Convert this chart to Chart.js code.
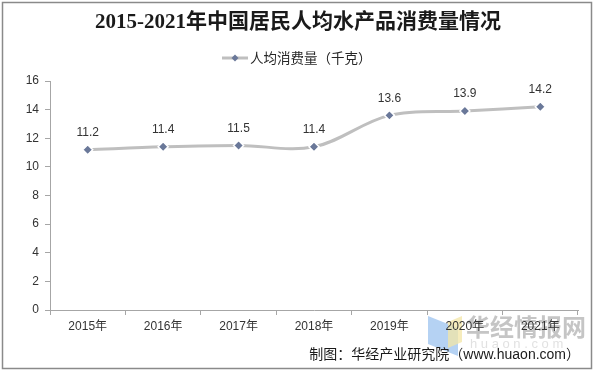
<!DOCTYPE html>
<html><head><meta charset="utf-8">
<script src="https://cdn.jsdelivr.net/npm/chart.js@4/dist/chart.umd.min.js"></script>
<style>html,body{margin:0;padding:0;background:#fff;}#wrap{position:relative;width:595px;height:373px;}</style>
</head><body><div id="wrap"><canvas id="c" width="595" height="373"></canvas></div>
<script>
const categories = ['2015年','2016年','2017年','2018年','2019年','2020年','2021年'];
const consumption = [11.2, 11.4, 11.5, 11.4, 13.6, 13.9, 14.2];
const seriesName = '人均消费量（千克）';
const titleText = '2015-2021年中国居民人均水产品消费量情况';
const sourceText = '制图：华经产业研究院（www.huaon.com）';
const yTicks = [0,2,4,6,8,10,12,14,16];

const CJK = '"Liberation Sans", "Noto Sans CJK SC", sans-serif';

const decor = {
  id: 'decor',
  beforeDraw(chart) {
    const ctx = chart.ctx;
    ctx.save();
    ctx.fillStyle = '#fff';
    ctx.fillRect(0, 0, chart.width, chart.height);
    // frame
    ctx.strokeStyle = '#8a8a8a';
    ctx.lineWidth = 1.5;
    ctx.strokeRect(2.5, 2.5, 589, 366);
    // watermark logo
    ctx.globalAlpha = 0.75;
    ctx.fillStyle = '#9cc3ef';
    ctx.beginPath();
    ctx.moveTo(428, 316); ctx.lineTo(458, 328); ctx.lineTo(458, 356); ctx.lineTo(428, 344); ctx.closePath(); ctx.fill();
    ctx.fillStyle = '#f3e6a6';
    ctx.beginPath();
    ctx.moveTo(448, 322); ctx.lineTo(462, 316); ctx.lineTo(462, 342); ctx.lineTo(448, 348); ctx.closePath(); ctx.fill();
    ctx.globalAlpha = 1;
    ctx.fillStyle = 'rgba(150,150,150,0.55)';
    ctx.font = 'bold 24px "Noto Sans CJK SC", sans-serif';
    ctx.textAlign = 'left'; ctx.textBaseline = 'middle';
    ctx.fillText('华经情报网', 466, 327);
    ctx.fillStyle = 'rgba(170,170,170,0.35)';
    ctx.font = '13px "Liberation Sans", sans-serif';
    ctx.fillText('h u a o n . c o m', 470, 344);
    ctx.restore();
  },
  afterDraw(chart) {
    const ctx = chart.ctx;
    ctx.save();
    // title
    ctx.fillStyle = '#1a1a1a';
    ctx.textAlign = 'center'; ctx.textBaseline = 'middle';
    ctx.font = 'bold 21px "Liberation Serif", "Noto Sans CJK SC", serif';
    ctx.fillText(titleText, 298, 23);
    // legend
    const ly = 58;
    ctx.strokeStyle = '#bfbfbf'; ctx.lineWidth = 3;
    ctx.beginPath(); ctx.moveTo(222, ly); ctx.lineTo(248, ly); ctx.stroke();
    ctx.fillStyle = '#6a7899';
    ctx.beginPath(); ctx.moveTo(235, ly-3.5); ctx.lineTo(238.5, ly); ctx.lineTo(235, ly+3.5); ctx.lineTo(231.5, ly); ctx.closePath(); ctx.fill();
    ctx.fillStyle = '#262626';
    ctx.textAlign = 'left';
    ctx.font = '13.5px "Noto Sans CJK SC", sans-serif';
    ctx.fillText(seriesName, 250, ly);
    // data labels
    const meta = chart.getDatasetMeta(0);
    ctx.font = '12px "Liberation Sans", sans-serif';
    ctx.fillStyle = '#333';
    ctx.textAlign = 'center';
    meta.data.forEach((pt, i) => {
      ctx.fillText(consumption[i].toFixed(1), pt.x, pt.y - 17);
    });
    // source
    ctx.fillStyle = '#1a1a1a';
    ctx.textAlign = 'right';
    ctx.font = '14px ' + CJK;
    ctx.fillText(sourceText, 580, 355);
    ctx.restore();
  }
};

new Chart(document.getElementById('c'), {
  type: 'line',
  data: {
    labels: categories,
    datasets: [{
      label: seriesName,
      data: consumption,
      borderColor: '#bfbfbf',
      borderWidth: 3,
      tension: 0.35,
      pointStyle: 'rectRot',
      pointRadius: 5,
      pointHoverRadius: 5,
      pointBackgroundColor: '#6a7899',
      pointBorderColor: '#ffffff',
      pointBorderWidth: 1.5
    }]
  },
  options: {
    responsive: false,
    animation: false,
    devicePixelRatio: 1,
    layout: { padding: { left: 0, right: 17, top: 81, bottom: 0 } },
    plugins: { legend: { display: false }, title: { display: false }, tooltip: { enabled: false } },
    scales: {
      x: {
        type: 'category',
        offset: true,
        afterFit(s) { s.height = 63; },
        grid: { display: true, drawOnChartArea: false, drawTicks: true, tickLength: 5, offset: true, color: '#a6a6a6' },
        border: { display: true, color: '#a6a6a6', width: 1 },
        ticks: { color: '#333', font: { size: 12, family: CJK }, padding: 4, maxRotation: 0 }
      },
      y: {
        min: 0, max: 16,
        afterFit(s) { s.width = 50; },
        afterBuildTicks(s) { s.ticks = yTicks.map(v => ({ value: v })); },
        grid: { display: true, drawOnChartArea: false, drawTicks: true, tickLength: 5, color: '#a6a6a6' },
        border: { display: true, color: '#a6a6a6', width: 1 },
        ticks: { color: '#333', font: { size: 12, family: '"Liberation Sans", sans-serif' }, padding: 6 }
      }
    }
  },
  plugins: [decor]
});
</script></body></html>
